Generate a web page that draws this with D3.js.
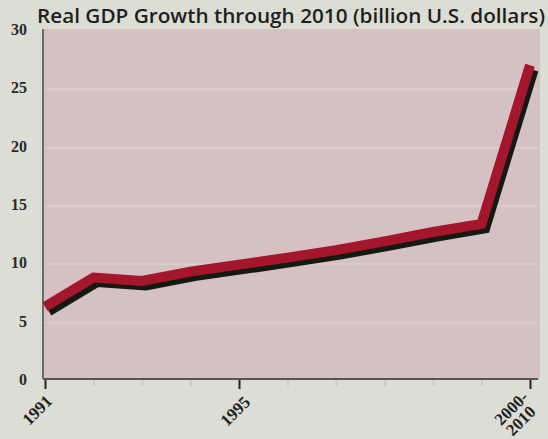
<!DOCTYPE html>
<html>
<head>
<meta charset="utf-8">
<script src="https://cdn.jsdelivr.net/npm/d3@7"></script>
<style>
  html, body { margin: 0; padding: 0; background: #dddfd6; }
  svg { display: block; }
</style>
</head>
<body>
<svg id="chart" width="548" height="439"></svg>
<script>
const categories = ["1991","1992","1993","1994","1995","1996","1997","1998","1999","2000","2000-2010"];
const gdpValues = [6.2, 8.7, 8.4, 9.2, 9.8, 10.4, 11.05, 11.8, 12.6, 13.3, 26.9];
const yTicks = [0, 5, 10, 15, 20, 25, 30];
const labeledTicks = ["1991", "1995", "2000-2010"];
const titleText = "Real GDP Growth through 2010 (billion U.S. dollars)";

(function () {
const svg = d3.select("#chart");
const W = 548, H = 439;
const pLeft = 43, pRight = 540, pTop = 29, pBottom = 379;

svg.append("rect").attr("width", W).attr("height", H).attr("fill", "#dcded5");

const x = d3.scalePoint().domain(categories).range([45, 530]);
const y = d3.scaleLinear().domain([0, 30]).range([pBottom, pTop]);

svg.append("rect")
  .attr("x", pLeft).attr("y", pTop)
  .attr("width", pRight - pLeft).attr("height", pBottom - pTop)
  .attr("fill", "#d5c1c2");

svg.append("g").selectAll("line")
  .data(yTicks.filter(d => d > 0 && d < 30))
  .join("line")
  .attr("x1", pLeft + 2).attr("x2", pRight - 2)
  .attr("y1", d => y(d) + 2).attr("y2", d => y(d) + 2)
  .attr("stroke", "#dccccc").attr("stroke-width", 2);

const yAxis = d3.axisLeft(y).tickValues(yTicks).tickSize(0).tickPadding(0);
const gy = svg.append("g").attr("transform", `translate(${pLeft},0)`).call(yAxis);
gy.select(".domain").attr("stroke", "#6a6a6a").attr("stroke-width", 2)
  .attr("d", `M0,${pTop}V${pBottom}`);
gy.selectAll("text")
  .attr("x", -16)
  .attr("dy", "0.35em")
  .attr("font-family", "'Liberation Serif', 'DejaVu Serif', serif")
  .attr("font-size", 16)
  .attr("font-weight", "bold")
  .attr("fill", "#2a2a2a");

const xAxis = d3.axisBottom(x).tickSize(0).tickFormat("");
const gx = svg.append("g").attr("transform", `translate(0,${pBottom})`).call(xAxis);
gx.select(".domain").attr("stroke", "#555").attr("stroke-width", 2)
  .attr("d", `M${pLeft},0H${538}`);
gx.selectAll(".tick").append("line")
  .attr("y1", 1)
  .attr("y2", d => labeledTicks.includes(d) ? 10 : 7)
  .attr("stroke", d => labeledTicks.includes(d) ? "#222" : "#cbcdc4")
  .attr("stroke-width", 2);

const labelG = svg.append("g")
  .attr("font-family", "'Liberation Serif', 'DejaVu Serif', serif")
  .attr("font-size", 17)
  .attr("font-weight", "bold")
  .attr("fill", "#222");
labeledTicks.forEach((c, i) => {
  const dx = [-8, -4, -19][i];
  const cy = [410, 411, 408][i];
  const t = labelG.append("text")
    .attr("transform", `translate(${x(c) + dx},${cy}) rotate(-45)`)
    .attr("text-anchor", "middle")
    .attr("dy", "0.35em");
  if (c.includes("-")) {
    const parts = c.split("-");
    t.append("tspan").attr("x", 0).text(parts[0] + "-");
    t.append("tspan").attr("x", -2).attr("dy", 15.6).text(parts[1]);
  } else {
    t.text(c);
  }
});

const line = d3.line()
  .x((d, i) => x(categories[i]))
  .y(d => y(d))
  .curve(d3.curveLinear);

svg.append("path")
  .datum(gdpValues)
  .attr("d", line)
  .attr("transform", "translate(4,5)")
  .attr("fill", "none")
  .attr("stroke", "#141a12")
  .attr("stroke-width", 9)
  .attr("stroke-linejoin", "miter");

svg.append("path")
  .datum(gdpValues)
  .attr("d", line)
  .attr("fill", "none")
  .attr("stroke", "#a3162b")
  .attr("stroke-width", 10)
  .attr("stroke-linejoin", "miter");

svg.append("text")
  .attr("x", 37).attr("y", 23)
  .attr("font-family", "'Open Sans', 'DejaVu Sans', sans-serif")
  .attr("font-size", 19)
  .attr("font-weight", 600)
  .attr("fill", "#1e1e1e")
  .attr("textLength", 508)
  .attr("lengthAdjust", "spacingAndGlyphs")
  .text(titleText);
})();
</script>
</body>
</html>
